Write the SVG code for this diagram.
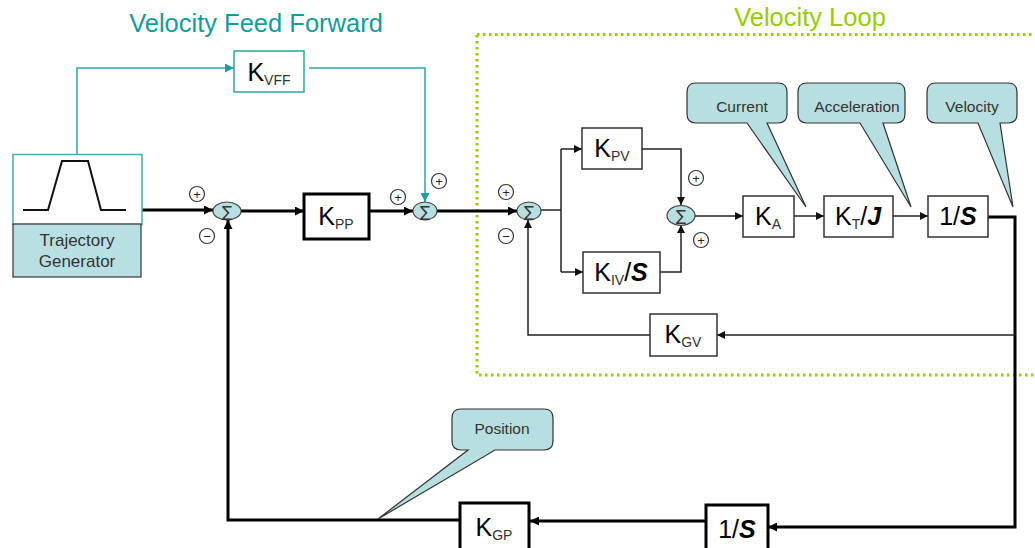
<svg xmlns="http://www.w3.org/2000/svg" width="1035" height="548" viewBox="0 0 1035 548">
<style>
text{font-family:"Liberation Sans",Arial,sans-serif}
.box{fill:#fff;stroke:#333;stroke-width:1.5}
.tbox{fill:#fff;stroke:#000;stroke-width:3}
.lbl{font-size:25px;fill:#000;text-anchor:middle}
.sub{font-size:14px;fill:#333}
.bi{font-weight:bold;font-style:italic}
.sum{fill:#B7DEE0;stroke:#444;stroke-width:1.2}
.sg{font-size:15px;fill:#333;text-anchor:middle;font-family:"DejaVu Sans",sans-serif}
.sgn{fill:#fff;stroke:#333;stroke-width:1.2}
.pm{font-size:13px;fill:#222;text-anchor:middle}
.call{fill:#B7DEE0;stroke:#333;stroke-width:1.2}
.ct{font-size:15.5px;fill:#333;text-anchor:middle}
.thick{fill:none;stroke:#000;stroke-width:3}
.thin{fill:none;stroke:#222;stroke-width:1.5}
.teal{fill:none;stroke:#2AA7A7;stroke-width:1.5}
</style>
<defs>
<marker id="ak" viewBox="0 0 10 10" refX="10" refY="5" markerWidth="10" markerHeight="9" markerUnits="userSpaceOnUse" orient="auto"><path d="M0,0 L10,5 L0,10 z" fill="#000"/></marker>
<marker id="at" viewBox="0 0 10 10" refX="10" refY="5" markerWidth="9" markerHeight="8" markerUnits="userSpaceOnUse" orient="auto"><path d="M0,0 L10,5 L0,10 z" fill="#111"/></marker>
<marker id="ag" viewBox="0 0 10 10" refX="10" refY="5" markerWidth="10" markerHeight="9" markerUnits="userSpaceOnUse" orient="auto"><path d="M0,0 L10,5 L0,10 z" fill="#1E9E9E"/></marker>
</defs>
<rect width="1035" height="548" fill="#fff"/>

<text x="256" y="32" font-size="25.5" fill="#129C9C" text-anchor="middle">Velocity Feed Forward</text>
<text x="810" y="26" font-size="25.5" fill="#99CC00" text-anchor="middle">Velocity Loop</text>
<rect x="477" y="34.5" width="600" height="340.5" fill="none" stroke="#99CC00" stroke-width="3" stroke-dasharray="2.5 3.5"/>

<g id="connectors">
<path class="thick" d="M142,210 H213" marker-end="url(#ak)"/>
<path class="thick" d="M241,211 H304" marker-end="url(#ak)"/>
<path class="thick" d="M369,211 H413" marker-end="url(#ak)"/>
<path class="thick" d="M437,211 H517" marker-end="url(#ak)"/>
<path class="thick" d="M988,217 H1015 V527 H768" marker-end="url(#ak)"/>
<path class="thick" d="M706,521 H530" marker-end="url(#ak)"/>
<path class="thick" d="M460,520 H228 V220" marker-end="url(#ak)"/>
<path class="thin" d="M541,210 H561"/>
<path class="thin" d="M561,149 V272"/>
<path class="thin" d="M561,149 H582" marker-end="url(#at)"/>
<path class="thin" d="M561,272 H583" marker-end="url(#at)"/>
<path class="thin" d="M642,149 H681 V205" marker-end="url(#at)"/>
<path class="thin" d="M660,272 H681 V225" marker-end="url(#at)"/>
<path class="thin" d="M695,216 H743" marker-end="url(#at)"/>
<path class="thin" d="M794,216 H824" marker-end="url(#at)"/>
<path class="thin" d="M893,216 H928" marker-end="url(#at)"/>
<path class="thin" d="M1015,335 H717" marker-end="url(#at)"/>
<path class="thin" d="M650,335 H528 V220" marker-end="url(#at)"/>
<path class="teal" d="M77,154 V68 H234" marker-end="url(#ag)"/>
<path class="teal" d="M309,68 H425 V202" marker-end="url(#ag)"/>
</g>

<g id="trajectory">
<rect x="13" y="154.5" width="129" height="70" fill="#fff" stroke="#44AFAF" stroke-width="1.5"/>
<polyline points="23,210 48,210 62,161 88,161 101,210 126,210" fill="none" stroke="#111" stroke-width="2"/>
<rect x="13" y="224" width="128" height="53" fill="#B8DFE2" stroke="#333" stroke-width="1.2"/>
<text x="77" y="246" font-size="17" fill="#333" text-anchor="middle">Trajectory</text>
<text x="77" y="267" font-size="17" fill="#333" text-anchor="middle">Generator</text>
</g>

<g id="kvff">
<rect x="234" y="51" width="70" height="41" fill="#fff" stroke="#2AA7A7" stroke-width="1.5"/>
<text class="lbl" x="269" y="81">K<tspan class="sub" dy="4">VFF</tspan></text>
</g>

<g id="sum1">
<ellipse class="sum" cx="227" cy="211" rx="14" ry="9"/>
<text class="sg" x="227" y="216.5">∑</text>
<circle class="sgn" cx="197" cy="194" r="7.5"/><text class="pm" x="197" y="198.5">+</text>
<circle class="sgn" cx="207" cy="236" r="7.5"/><text class="pm" x="207" y="240.5">−</text>
</g>

<g id="kpp">
<rect class="tbox" x="304" y="194" width="65" height="45"/>
<text class="lbl" x="336" y="225">K<tspan class="sub" dy="4">PP</tspan></text>
</g>

<g id="sum2">
<ellipse class="sum" cx="425" cy="211" rx="12" ry="9"/>
<text class="sg" x="425" y="216.5">∑</text>
<circle class="sgn" cx="398" cy="197" r="7.5"/><text class="pm" x="398" y="201.5">+</text>
<circle class="sgn" cx="439" cy="181" r="7.5"/><text class="pm" x="439" y="185.5">+</text>
</g>

<g id="sum3">
<ellipse class="sum" cx="529" cy="211" rx="12" ry="9"/>
<text class="sg" x="529" y="216.5">∑</text>
<circle class="sgn" cx="506" cy="192" r="7.5"/><text class="pm" x="506" y="196.5">+</text>
<circle class="sgn" cx="506" cy="236" r="7.5"/><text class="pm" x="506" y="240.5">−</text>
</g>

<g id="kpv">
<rect class="box" x="582" y="128" width="60" height="41"/>
<text class="lbl" x="612" y="157">K<tspan class="sub" dy="4">PV</tspan></text>
</g>

<g id="kivs">
<rect class="box" x="583" y="252" width="77" height="41"/>
<text class="lbl" x="621" y="281">K<tspan class="sub" dy="4">IV</tspan><tspan dy="-4">/</tspan><tspan class="bi">S</tspan></text>
</g>

<g id="sum4">
<ellipse class="sum" cx="681" cy="215.5" rx="14" ry="10"/>
<text class="sg" x="681" y="221">∑</text>
<circle class="sgn" cx="696" cy="178" r="7.5"/><text class="pm" x="696" y="182.5">+</text>
<circle class="sgn" cx="701" cy="240" r="7.5"/><text class="pm" x="701" y="244.5">+</text>
</g>

<g id="ka">
<rect class="box" x="743" y="196" width="51" height="41"/>
<text class="lbl" x="768" y="225">K<tspan class="sub" dy="4">A</tspan></text>
</g>

<g id="ktj">
<rect class="box" x="824" y="196" width="69" height="41"/>
<text class="lbl" x="858" y="225">K<tspan class="sub" dy="4">T</tspan><tspan dy="-4">/</tspan><tspan class="bi">J</tspan></text>
</g>

<g id="integ1">
<rect class="box" x="928" y="196" width="60" height="41"/>
<text class="lbl" x="958" y="225" font-size="24">1/<tspan class="bi">S</tspan></text>
</g>

<g id="kgv">
<rect class="box" x="650" y="314" width="67" height="42"/>
<text class="lbl" x="683" y="343">K<tspan class="sub" dy="4">GV</tspan></text>
</g>

<g id="integ2">
<rect class="tbox" x="706" y="505" width="62" height="45"/>
<text class="lbl" x="737" y="538" font-size="24">1/<tspan class="bi">S</tspan></text>
</g>

<g id="kgp">
<rect class="tbox" x="460" y="503" width="69" height="47"/>
<text class="lbl" x="494" y="536">K<tspan class="sub" dy="4">GP</tspan></text>
</g>

<g id="callout-current">
<path class="call" d="M696,83 H778 Q787,83 787,92 V114 Q787,123 778,123 H767 L806,207 L747,123 H696 Q687,123 687,114 V92 Q687,83 696,83 Z"/>
<text class="ct" x="742" y="112">Current</text>
</g>
<g id="callout-accel">
<path class="call" d="M807,83 H896 Q905,83 905,92 V114 Q905,123 896,123 H883 L911,207 L860,123 H807 Q798,123 798,114 V92 Q798,83 807,83 Z"/>
<text class="ct" x="857" y="112">Acceleration</text>
</g>
<g id="callout-velocity">
<path class="call" d="M936,83 H1008 Q1017,83 1017,92 V114 Q1017,123 1008,123 H1000 L1013,207 L978,123 H936 Q927,123 927,114 V92 Q927,83 936,83 Z"/>
<text class="ct" x="972" y="112">Velocity</text>
</g>
<g id="callout-position">
<path class="call" d="M461,409 H544 Q553,409 553,418 V441 Q553,450 544,450 H495 L378,519 L468,450 H461 Q452,450 452,441 V418 Q452,409 461,409 Z"/>
<text class="ct" x="502" y="434">Position</text>
</g>
</svg>
